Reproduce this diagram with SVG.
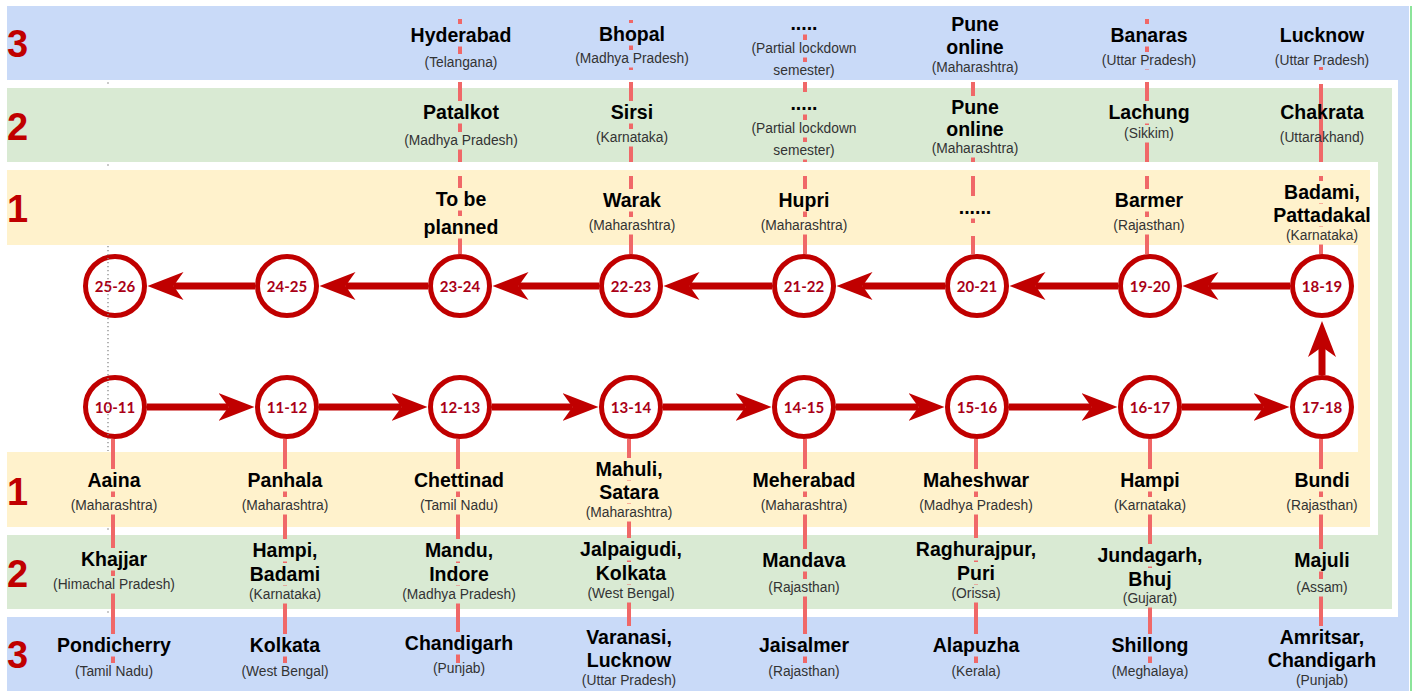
<svg xmlns="http://www.w3.org/2000/svg" width="1417" height="691" viewBox="0 0 1417 691">
<defs>
<style>
.n{font-family:"Liberation Sans",Arial,sans-serif;font-weight:bold;font-size:19.5px;fill:#000;text-anchor:middle}
.s{font-family:"Liberation Sans",Arial,sans-serif;font-size:13.8px;fill:#333;text-anchor:middle}
.big{font-family:"Liberation Sans",Arial,sans-serif;font-weight:bold;font-size:38px;fill:#c00000}
.yr{font-family:Lato,"DejaVu Sans",sans-serif;font-weight:bold;font-size:15px;fill:#aa0016;text-anchor:middle}
.c{fill:#fff;stroke:#c00000;stroke-width:5}
.ar{stroke:#c00000;stroke-width:7;fill:none;marker-end:url(#ah)}
.vl{stroke:#f06868;stroke-width:4;fill:none}
.kb{fill:#c9daf8}
.kg{fill:#d9ead3}
.ky{fill:#fff2cc}
</style>
<marker id="ah" markerUnits="userSpaceOnUse" markerWidth="40" markerHeight="32" viewBox="0 0 40 32" refX="10" refY="16" orient="auto">
<path d="M0,2 L36,16 L0,30 L10,16 Z" fill="#c00000"/>
</marker>
</defs>
<rect width="1417" height="691" fill="#fff"/>
<g id="bands">
<rect x="7" y="6" width="1402" height="685" fill="#c9daf8"/>
<rect x="7" y="80" width="1391" height="537" fill="#fff"/>
<rect x="7" y="88" width="1385" height="521" fill="#d9ead3"/>
<rect x="7" y="162" width="1371" height="373" fill="#fff"/>
<rect x="7" y="170" width="1363" height="357" fill="#fff2cc"/>
<rect x="7" y="245" width="1351" height="207" fill="#fff"/>
<rect x="1410" y="6" width="2" height="685" fill="#8ce49a"/>
<text class="big" x="7" y="57">3</text>
<text class="big" x="7" y="140">2</text>
<text class="big" x="7" y="222">1</text>
<text class="big" x="7" y="505">1</text>
<text class="big" x="7" y="587">2</text>
<text class="big" x="7" y="668">3</text>
</g>
<g id="connectors">
<g id="leaders">
<path class="vl" d="M460,19V70M460,82V162M460,176V254"/>
<path class="vl" d="M631,20V70M631,82V162M631,176V254"/>
<path class="vl" d="M805,20V70M805,82V162M805,176V254"/>
<path class="vl" d="M973,82V162M973,176V254"/>
<path class="vl" d="M1147,19V70M1147,82V162M1147,176V254"/>
<path class="vl" d="M1321,67V70M1321,84V162M1321,176V254"/>
<path class="vl" d="M113,439V663M285,439V663M458,439V663M629,439V663M805,439V663M976,439V663M1150,439V663M1321,439V663"/>
</g>
<g id="arrows">
<path class="ar" d="M255,286H173.5"/>
<path class="ar" d="M428,286H345.5"/>
<path class="ar" d="M599,286H518.5"/>
<path class="ar" d="M772,286H689.5"/>
<path class="ar" d="M945,286H862.5"/>
<path class="ar" d="M1118,286H1035.5"/>
<path class="ar" d="M1290,286H1208.5"/>
<path class="ar" d="M147,407H228.5"/>
<path class="ar" d="M319,407H401.5"/>
<path class="ar" d="M492,407H572.5"/>
<path class="ar" d="M663,407H745.5"/>
<path class="ar" d="M836,407H918.5"/>
<path class="ar" d="M1009,407H1091.5"/>
<path class="ar" d="M1182,407H1263.5"/>
<path class="ar" d="M1322,375V347"/>
</g>
</g>
<g id="labels">
<g id="t3-23"><rect class="kb" x="455" y="24" width="10" height="22.5"/><rect class="kb" x="455" y="54" width="10" height="17.5"/><text class="n" x="461" y="42">Hyderabad</text><text class="s" x="461" y="67">(Telangana)</text></g>
<g id="t3-22"><rect class="kb" x="626" y="23" width="10" height="22.5"/><rect class="kb" x="626" y="50" width="10" height="17.5"/><text class="n" x="632" y="41">Bhopal</text><text class="s" x="632" y="63">(Madhya Pradesh)</text></g>
<g id="t3-21"><rect class="kb" x="800" y="12" width="10" height="22.5"/><rect class="kb" x="800" y="40" width="10" height="17.5"/><rect class="kb" x="800" y="62" width="10" height="17.5"/><text class="n" x="804" y="30">.....</text><text class="s" x="804" y="53">(Partial lockdown</text><text class="s" x="804" y="75">semester)</text></g>
<g id="t3-20"><text class="n" x="975" y="31">Pune</text><text class="n" x="975" y="54">online</text><text class="s" x="975" y="72">(Maharashtra)</text></g>
<g id="t3-19"><rect class="kb" x="1142" y="24" width="10" height="22.5"/><rect class="kb" x="1142" y="52" width="10" height="17.5"/><text class="n" x="1149" y="42">Banaras</text><text class="s" x="1149" y="65">(Uttar Pradesh)</text></g>
<g id="t3-18"><text class="n" x="1322" y="42">Lucknow</text><text class="s" x="1322" y="65">(Uttar Pradesh)</text></g>

<g id="t2-23"><rect class="kg" x="455" y="101" width="10" height="22.5"/><rect class="kg" x="455" y="132" width="10" height="17.5"/><text class="n" x="461" y="119">Patalkot</text><text class="s" x="461" y="145">(Madhya Pradesh)</text></g>
<g id="t2-22"><rect class="kg" x="626" y="101" width="10" height="22.5"/><rect class="kg" x="626" y="129" width="10" height="17.5"/><text class="n" x="632" y="119">Sirsi</text><text class="s" x="632" y="142">(Karnataka)</text></g>
<g id="t2-21"><rect class="kg" x="800" y="92" width="10" height="22.5"/><rect class="kg" x="800" y="120" width="10" height="17.5"/><rect class="kg" x="800" y="142" width="10" height="17.5"/><text class="n" x="804" y="110">.....</text><text class="s" x="804" y="133">(Partial lockdown</text><text class="s" x="804" y="155">semester)</text></g>
<g id="t2-20"><rect class="kg" x="968" y="96" width="10" height="22.5"/><rect class="kg" x="968" y="118" width="10" height="22.5"/><rect class="kg" x="968" y="140" width="10" height="17.5"/><text class="n" x="975" y="114">Pune</text><text class="n" x="975" y="136">online</text><text class="s" x="975" y="153">(Maharashtra)</text></g>
<g id="t2-19"><rect class="kg" x="1142" y="101" width="10" height="22.5"/><rect class="kg" x="1142" y="125" width="10" height="17.5"/><text class="n" x="1149" y="119">Lachung</text><text class="s" x="1149" y="138">(Sikkim)</text></g>
<g id="t2-18"><text class="n" x="1322" y="119">Chakrata</text><text class="s" x="1322" y="142">(Uttarakhand)</text></g>

<g id="t1-23"><rect class="ky" x="455" y="188" width="10" height="22.5"/><rect class="ky" x="455" y="216" width="10" height="22.5"/><text class="n" x="461" y="206">To be</text><text class="n" x="461" y="234">planned</text></g>
<g id="t1-22"><rect class="ky" x="626" y="189" width="10" height="22.5"/><rect class="ky" x="626" y="217" width="10" height="17.5"/><text class="n" x="632" y="207">Warak</text><text class="s" x="632" y="230">(Maharashtra)</text></g>
<g id="t1-21"><rect class="ky" x="800" y="189" width="10" height="22.5"/><rect class="ky" x="800" y="217" width="10" height="17.5"/><text class="n" x="804" y="207">Hupri</text><text class="s" x="804" y="230">(Maharashtra)</text></g>
<g id="t1-20"><rect class="ky" x="968" y="196" width="10" height="22.5"/><rect class="ky" x="968" y="223" width="10" height="13"/><text class="n" x="975" y="214">......</text></g>
<g id="t1-19"><rect class="ky" x="1142" y="189" width="10" height="22.5"/><rect class="ky" x="1142" y="217" width="10" height="17.5"/><text class="n" x="1149" y="207">Barmer</text><text class="s" x="1149" y="230">(Rajasthan)</text></g>
<g id="t1-18"><rect class="ky" x="1316" y="181" width="10" height="22.5"/><rect class="ky" x="1316" y="204" width="10" height="22.5"/><rect class="ky" x="1316" y="227" width="10" height="17.5"/><text class="n" x="1322" y="199">Badami,</text><text class="n" x="1322" y="222">Pattadakal</text><text class="s" x="1322" y="240">(Karnataka)</text></g>

<g id="b1-10"><rect class="ky" x="108" y="469" width="10" height="22.5"/><rect class="ky" x="108" y="497" width="10" height="17.5"/><text class="n" x="114" y="487">Aaina</text><text class="s" x="114" y="510">(Maharashtra)</text></g>
<g id="b1-11"><rect class="ky" x="280" y="469" width="10" height="22.5"/><rect class="ky" x="280" y="497" width="10" height="17.5"/><text class="n" x="285" y="487">Panhala</text><text class="s" x="285" y="510">(Maharashtra)</text></g>
<g id="b1-12"><rect class="ky" x="453" y="469" width="10" height="22.5"/><rect class="ky" x="453" y="497" width="10" height="17.5"/><text class="n" x="459" y="487">Chettinad</text><text class="s" x="459" y="510">(Tamil Nadu)</text></g>
<g id="b1-13"><rect class="ky" x="624" y="458" width="10" height="22.5"/><rect class="ky" x="624" y="481" width="10" height="22.5"/><rect class="ky" x="624" y="504" width="10" height="17.5"/><text class="n" x="629" y="476">Mahuli,</text><text class="n" x="629" y="499">Satara</text><text class="s" x="629" y="517">(Maharashtra)</text></g>
<g id="b1-14"><rect class="ky" x="800" y="469" width="10" height="22.5"/><rect class="ky" x="800" y="497" width="10" height="17.5"/><text class="n" x="804" y="487">Meherabad</text><text class="s" x="804" y="510">(Maharashtra)</text></g>
<g id="b1-15"><rect class="ky" x="971" y="469" width="10" height="22.5"/><rect class="ky" x="971" y="497" width="10" height="17.5"/><text class="n" x="976" y="487">Maheshwar</text><text class="s" x="976" y="510">(Madhya Pradesh)</text></g>
<g id="b1-16"><rect class="ky" x="1145" y="469" width="10" height="22.5"/><rect class="ky" x="1145" y="497" width="10" height="17.5"/><text class="n" x="1150" y="487">Hampi</text><text class="s" x="1150" y="510">(Karnataka)</text></g>
<g id="b1-17"><rect class="ky" x="1316" y="469" width="10" height="22.5"/><rect class="ky" x="1316" y="497" width="10" height="17.5"/><text class="n" x="1322" y="487">Bundi</text><text class="s" x="1322" y="510">(Rajasthan)</text></g>

<g id="b2-10"><rect class="kg" x="108" y="548" width="10" height="22.5"/><rect class="kg" x="108" y="576" width="10" height="17.5"/><text class="n" x="114" y="566">Khajjar</text><text class="s" x="114" y="589">(Himachal Pradesh)</text></g>
<g id="b2-11"><rect class="kg" x="280" y="539" width="10" height="22.5"/><rect class="kg" x="280" y="563" width="10" height="22.5"/><rect class="kg" x="280" y="586" width="10" height="17.5"/><text class="n" x="285" y="557">Hampi,</text><text class="n" x="285" y="581">Badami</text><text class="s" x="285" y="599">(Karnataka)</text></g>
<g id="b2-12"><rect class="kg" x="453" y="539" width="10" height="22.5"/><rect class="kg" x="453" y="563" width="10" height="22.5"/><rect class="kg" x="453" y="586" width="10" height="17.5"/><text class="n" x="459" y="557">Mandu,</text><text class="n" x="459" y="581">Indore</text><text class="s" x="459" y="599">(Madhya Pradesh)</text></g>
<g id="b2-13"><rect class="kg" x="624" y="538" width="10" height="22.5"/><rect class="kg" x="624" y="562" width="10" height="22.5"/><rect class="kg" x="624" y="585" width="10" height="17.5"/><text class="n" x="631" y="556">Jalpaigudi,</text><text class="n" x="631" y="580">Kolkata</text><text class="s" x="631" y="598">(West Bengal)</text></g>
<g id="b2-14"><rect class="kg" x="800" y="549" width="10" height="22.5"/><rect class="kg" x="800" y="579" width="10" height="17.5"/><text class="n" x="804" y="567">Mandava</text><text class="s" x="804" y="592">(Rajasthan)</text></g>
<g id="b2-15"><rect class="kg" x="971" y="538" width="10" height="22.5"/><rect class="kg" x="971" y="562" width="10" height="22.5"/><rect class="kg" x="971" y="585" width="10" height="17.5"/><text class="n" x="976" y="556">Raghurajpur,</text><text class="n" x="976" y="580">Puri</text><text class="s" x="976" y="598">(Orissa)</text></g>
<g id="b2-16"><rect class="kg" x="1145" y="544" width="10" height="22.5"/><rect class="kg" x="1145" y="568" width="10" height="22.5"/><rect class="kg" x="1145" y="590" width="10" height="17.5"/><text class="n" x="1150" y="562">Jundagarh,</text><text class="n" x="1150" y="586">Bhuj</text><text class="s" x="1150" y="603">(Gujarat)</text></g>
<g id="b2-17"><rect class="kg" x="1316" y="549" width="10" height="22.5"/><rect class="kg" x="1316" y="579" width="10" height="17.5"/><text class="n" x="1322" y="567">Majuli</text><text class="s" x="1322" y="592">(Assam)</text></g>

<g id="b3-10"><rect class="kb" x="108" y="634" width="10" height="22.5"/><text class="n" x="114" y="652">Pondicherry</text><text class="s" x="114" y="676">(Tamil Nadu)</text></g>
<g id="b3-11"><rect class="kb" x="280" y="634" width="10" height="22.5"/><text class="n" x="285" y="652">Kolkata</text><text class="s" x="285" y="676">(West Bengal)</text></g>
<g id="b3-12"><rect class="kb" x="453" y="632" width="10" height="22.5"/><text class="n" x="459" y="650">Chandigarh</text><text class="s" x="459" y="673">(Punjab)</text></g>
<g id="b3-13"><rect class="kb" x="624" y="626" width="10" height="40"/><text class="n" x="629" y="644">Varanasi,</text><text class="n" x="629" y="667">Lucknow</text><text class="s" x="629" y="685">(Uttar Pradesh)</text></g>
<g id="b3-14"><rect class="kb" x="800" y="634" width="10" height="22.5"/><text class="n" x="804" y="652">Jaisalmer</text><text class="s" x="804" y="676">(Rajasthan)</text></g>
<g id="b3-15"><rect class="kb" x="971" y="634" width="10" height="22.5"/><text class="n" x="976" y="652">Alapuzha</text><text class="s" x="976" y="676">(Kerala)</text></g>
<g id="b3-16"><rect class="kb" x="1145" y="634" width="10" height="22.5"/><text class="n" x="1150" y="652">Shillong</text><text class="s" x="1150" y="676">(Meghalaya)</text></g>
<g id="b3-17"><rect class="kb" x="1316" y="626" width="10" height="40"/><text class="n" x="1322" y="644">Amritsar,</text><text class="n" x="1322" y="667">Chandigarh</text><text class="s" x="1322" y="685">(Punjab)</text></g>
</g>
<g id="nodes">
<g id="n25-26"><circle class="c" cx="115" cy="286" r="29.5"/><text class="yr" x="115" y="291.5">25-26</text></g>
<g id="n24-25"><circle class="c" cx="287" cy="286" r="29.5"/><text class="yr" x="287" y="291.5">24-25</text></g>
<g id="n23-24"><circle class="c" cx="460" cy="286" r="29.5"/><text class="yr" x="460" y="291.5">23-24</text></g>
<g id="n22-23"><circle class="c" cx="631" cy="286" r="29.5"/><text class="yr" x="631" y="291.5">22-23</text></g>
<g id="n21-22"><circle class="c" cx="804" cy="286" r="29.5"/><text class="yr" x="804" y="291.5">21-22</text></g>
<g id="n20-21"><circle class="c" cx="977" cy="286" r="29.5"/><text class="yr" x="977" y="291.5">20-21</text></g>
<g id="n19-20"><circle class="c" cx="1150" cy="286" r="29.5"/><text class="yr" x="1150" y="291.5">19-20</text></g>
<g id="n18-19"><circle class="c" cx="1322" cy="286" r="29.5"/><text class="yr" x="1322" y="291.5">18-19</text></g>
<g id="n10-11"><circle class="c" cx="115" cy="407" r="29.5"/><text class="yr" x="115" y="412.5">10-11</text></g>
<g id="n11-12"><circle class="c" cx="287" cy="407" r="29.5"/><text class="yr" x="287" y="412.5">11-12</text></g>
<g id="n12-13"><circle class="c" cx="460" cy="407" r="29.5"/><text class="yr" x="460" y="412.5">12-13</text></g>
<g id="n13-14"><circle class="c" cx="631" cy="407" r="29.5"/><text class="yr" x="631" y="412.5">13-14</text></g>
<g id="n14-15"><circle class="c" cx="804" cy="407" r="29.5"/><text class="yr" x="804" y="412.5">14-15</text></g>
<g id="n15-16"><circle class="c" cx="977" cy="407" r="29.5"/><text class="yr" x="977" y="412.5">15-16</text></g>
<g id="n16-17"><circle class="c" cx="1150" cy="407" r="29.5"/><text class="yr" x="1150" y="412.5">16-17</text></g>
<g id="n17-18"><circle class="c" cx="1322" cy="407" r="29.5"/><text class="yr" x="1322" y="412.5">17-18</text></g>
</g>
<g id="guide" fill="#888">
<line x1="108" y1="246" x2="108" y2="451" stroke="#8a8a8a" stroke-width="1.3" stroke-dasharray="1.3 2.7"/>
<circle cx="108" cy="83" r="0.8"/>
<circle cx="108" cy="165" r="0.8"/>
<circle cx="108" cy="529" r="0.8"/>
<circle cx="108" cy="612" r="0.8"/>
</g>
</svg>
